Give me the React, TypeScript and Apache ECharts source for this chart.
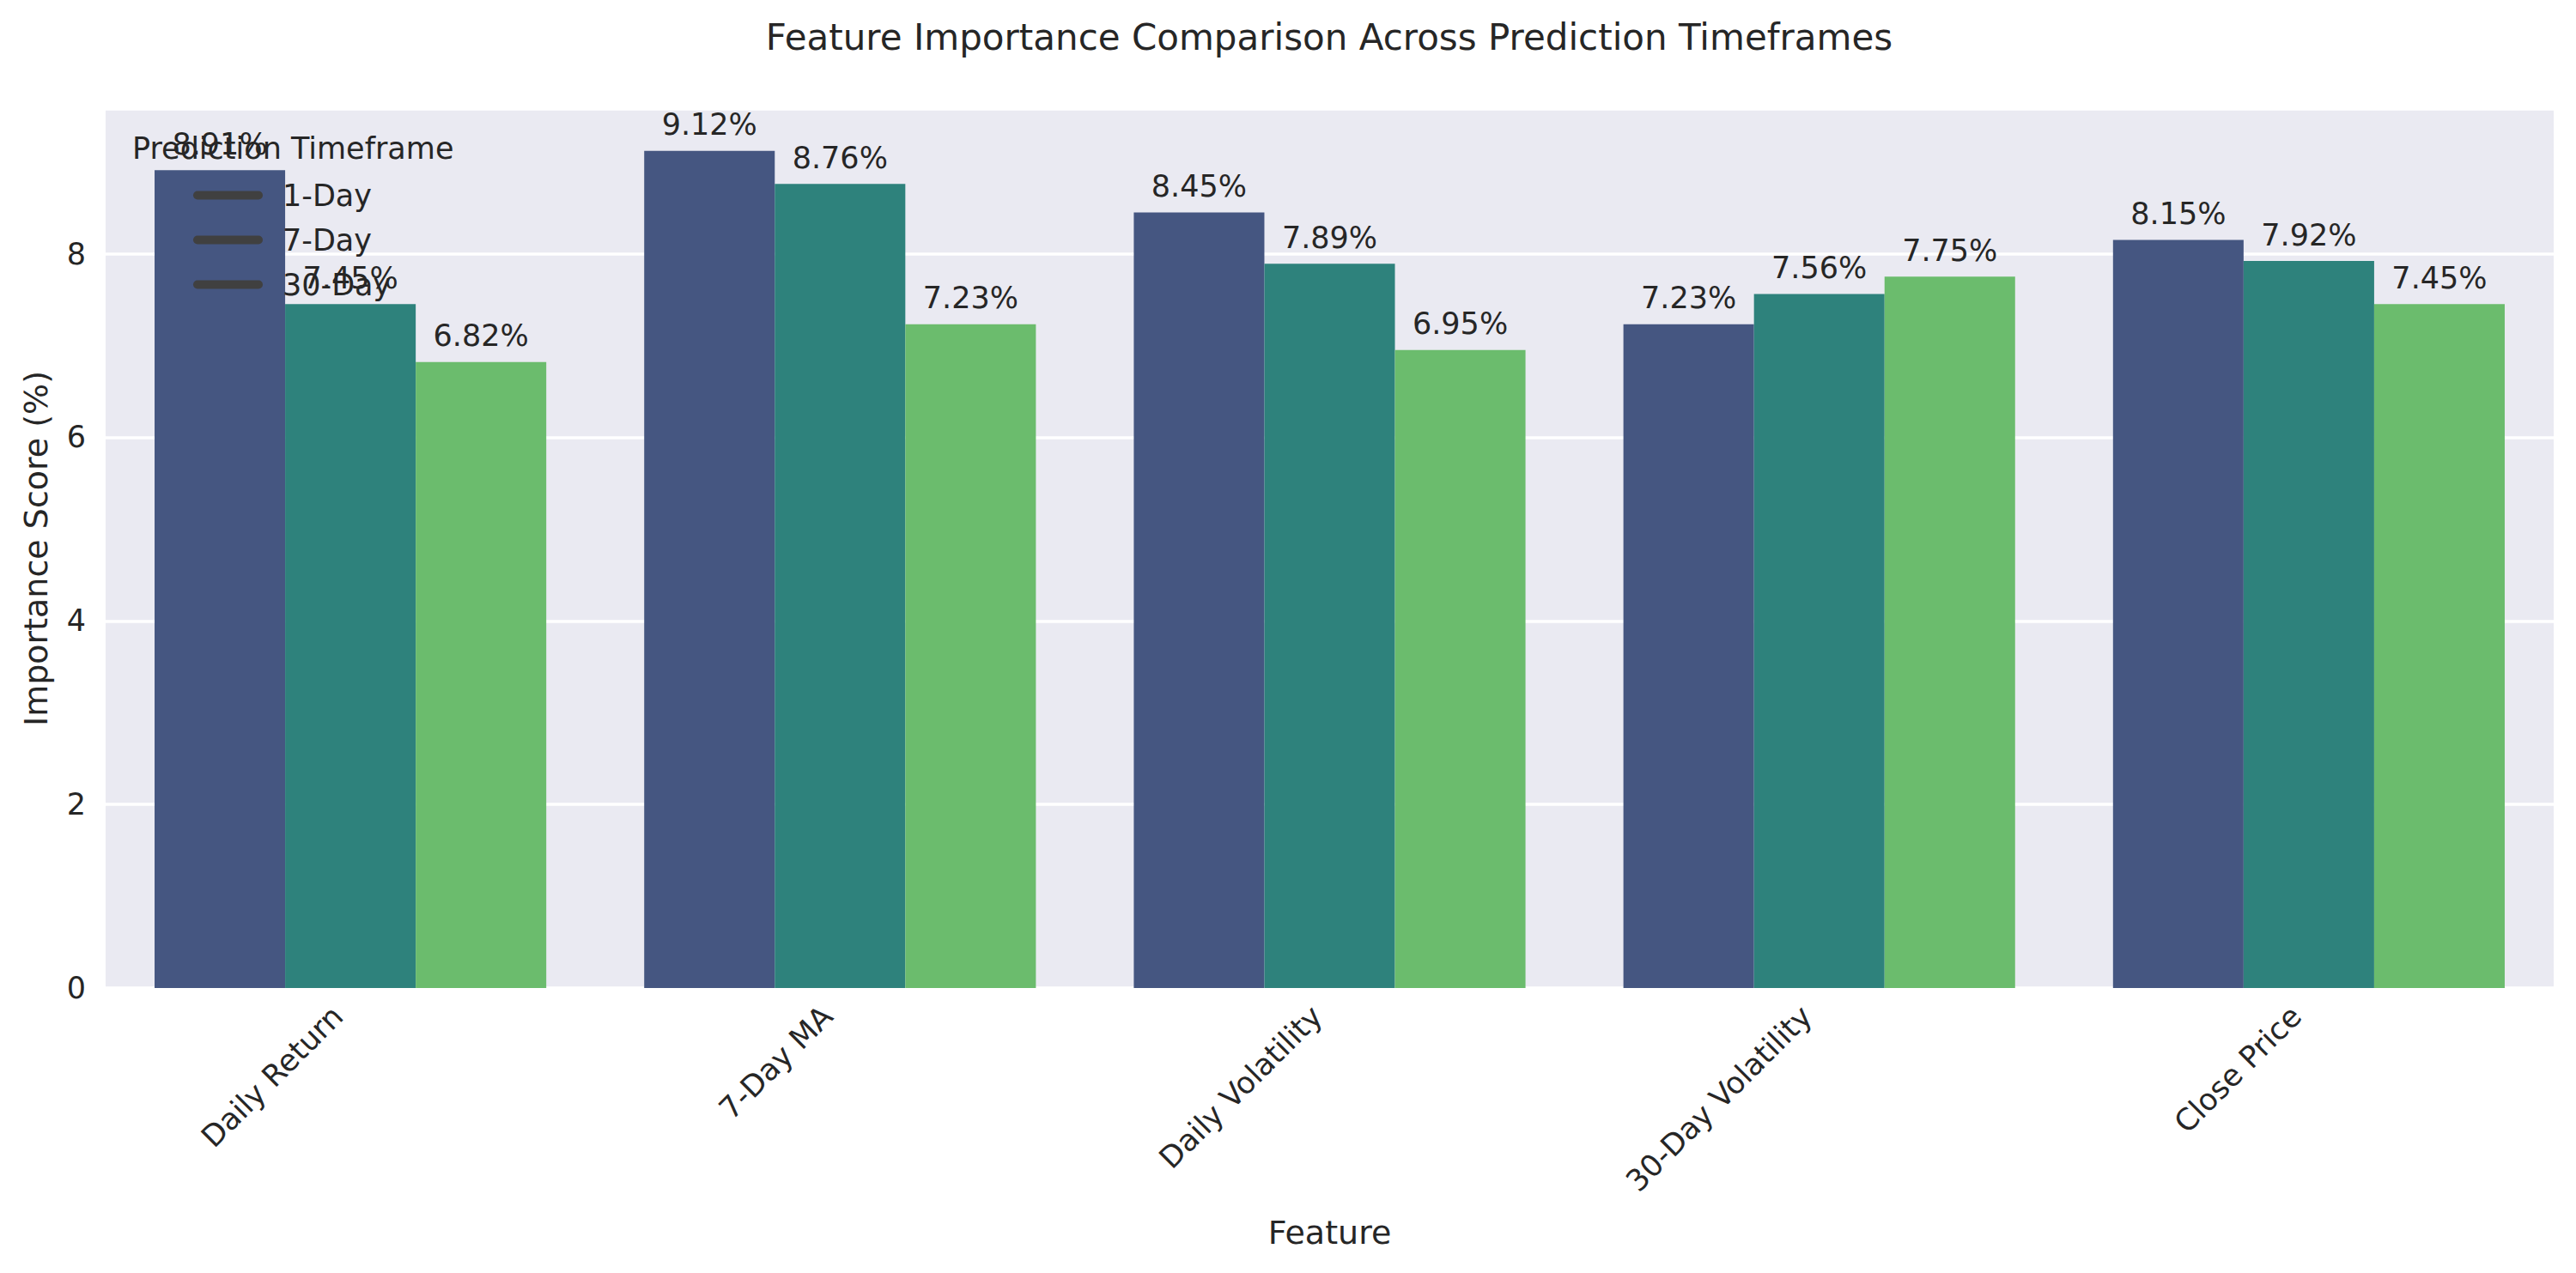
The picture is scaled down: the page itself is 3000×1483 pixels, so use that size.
import React, { useEffect, useRef } from "react";
import * as echarts from "echarts";

const features = ["Daily Return", "7-Day MA", "Daily Volatility", "30-Day Volatility", "Close Price"];
const timeframes = ["1-Day", "7-Day", "30-Day"];
const oneDay = [8.91, 9.12, 8.45, 7.23, 8.15];
const sevenDay = [7.45, 8.76, 7.89, 7.56, 7.92];
const thirtyDay = [6.82, 7.23, 6.95, 7.75, 7.45];
const yTicks = [0, 2, 4, 6, 8];
const colors = ["#455681", "#2e827c", "#6bbc6d"];

const FONT = "DejaVu Sans";
const TXT = "#262626";

export default function App() {
  const ref = useRef<HTMLDivElement>(null);
  useEffect(() => {
    document.body.style.margin = "0";
    const chart = echarts.init(ref.current!, null, { renderer: "svg" });
    const seriesData = [oneDay, sevenDay, thirtyDay];
    const yMax = Math.max(...oneDay, ...sevenDay, ...thirtyDay) * 1.05;
    chart.setOption({
      animation: false,
      backgroundColor: "#ffffff",
      textStyle: { fontFamily: FONT },
      title: {
        text: "Feature Importance Comparison Across Prediction Timeframes",
        left: 1548,
        top: 22,
        padding: 0,
        textAlign: "center",
        textStyle: { fontFamily: FONT, fontSize: 42, fontWeight: "normal", color: TXT },
      },
      grid: {
        left: 123,
        right: 26,
        top: 127,
        bottom: 332,
        show: true,
        backgroundColor: "#EAEAF2",
        borderWidth: 0,
      },
      legend: {
        orient: "vertical",
        left: 225,
        top: 210,
        padding: 0,
        itemWidth: 81,
        itemHeight: 10,
        itemGap: 17,
        icon: "path://M5,0 H76 A5,5 0 0 1 76,10 H5 A5,5 0 0 1 5,0 Z",
        itemStyle: { color: "#404040" },
        textStyle: { fontFamily: FONT, fontSize: 35, color: TXT, padding: [0, 0, 0, 18] },
        data: timeframes,
        selectedMode: false,
      },
      graphic: [
        {
          type: "text",
          left: 154,
          top: 155,
          z: 100,
          style: {
            text: "Prediction Timeframe",
            fontFamily: FONT,
            fontSize: 35,
            fill: TXT,
          },
        },
      ],
      xAxis: {
        type: "category",
        data: features,
        name: "Feature",
        nameLocation: "middle",
        nameGap: 266,
        nameTextStyle: { fontFamily: FONT, fontSize: 38, color: TXT },
        axisLine: { show: false },
        axisTick: { show: false },
        axisLabel: {
          rotate: 45,
          margin: 12,
          fontFamily: FONT,
          fontSize: 35,
          color: TXT,
          padding: [0, 21, 0, 0],
        },
        splitLine: { show: false },
      },
      yAxis: {
        type: "value",
        min: 0,
        max: yMax,
        interval: 2,
        name: "Importance Score (%)",
        nameLocation: "middle",
        nameGap: 62,
        nameTextStyle: { fontFamily: FONT, fontSize: 38, color: TXT },
        axisLine: { show: false },
        axisTick: { show: false },
        axisLabel: {
          margin: 23,
          fontFamily: FONT,
          fontSize: 35,
          color: TXT,
          showMaxLabel: false,
          formatter: (v: number) => (yTicks.includes(v) ? String(v) : ""),
        },
        splitLine: { show: true, lineStyle: { color: "#ffffff", width: 3.5 } },
      },
      series: timeframes.map((name, i) => ({
        name,
        type: "bar",
        data: seriesData[i],
        barGap: "0%",
        barCategoryGap: "20%",
        itemStyle: { color: colors[i] },
        label: {
          show: true,
          position: "top",
          distance: 13,
          fontFamily: FONT,
          fontSize: 35,
          color: TXT,
          formatter: (p: any) => `${p.value.toFixed(2)}%`,
        },
      })),
    });
    return () => chart.dispose();
  }, []);
  return (
    <div
      ref={ref}
      style={{ position: "fixed", left: 0, top: 0, width: 3000, height: 1483 }}
    />
  );
}
